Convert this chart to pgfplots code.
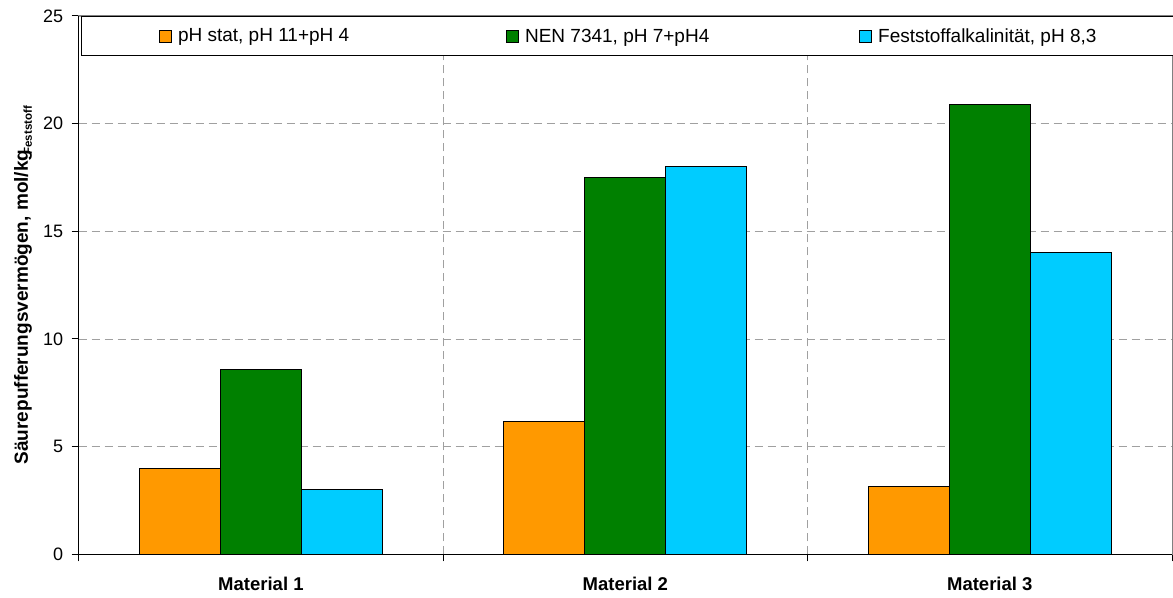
\documentclass[border=0pt]{standalone}
\usepackage{fontspec}
\setmainfont{Liberation Sans}
\usepackage{pgfplots}
\pgfplotsset{compat=1.18}
\definecolor{cOrange}{HTML}{FF9900}
\definecolor{cGreen}{HTML}{008000}
\definecolor{cCyan}{HTML}{00CCFF}
\definecolor{gridgray}{HTML}{A0A0A0}
\definecolor{bordergray}{HTML}{808080}
\pgfplotsset{
  mybar/.style={ybar, bar width=81pt, draw=black, line width=1pt,
    legend image code/.code={\draw[##1, draw=black, line width=0.8pt] (0pt,-6pt) rectangle (12pt,6pt);}},
}
\begin{document}
\begin{tikzpicture}
\begin{axis}[
  scale only axis,
  width=1093.3pt, height=538.3pt,
  xmin=-0.5, xmax=2.5, ymin=0, ymax=25,
  xtick={0,1,2},
  xticklabels={Material 1, Material 2, Material 3},
  minor xtick={-0.5,0.5,1.5,2.5},
  ytick={0,5,10,15,20,25},
  xtick pos=left, ytick pos=left,
  tick align=outside,
  major tick length=7pt, minor tick length=7pt,
  major x tick style={draw=none},
  minor x tick style={black, line width=1pt},
  major y tick style={black, line width=1pt},
  ymajorgrids, xminorgrids,
  grid style={gridgray, dash pattern=on 8pt off 5pt, line width=0.8pt},
  axis line style={bordergray, line width=1pt},
  /pgf/number format/assume math mode=true,
  yticklabel style={font=\fontsize{18}{20}\selectfont, xshift=-5pt},
  xticklabel style={font=\fontsize{18.5}{20}\selectfont\bfseries, yshift=-12pt},
  every axis y label/.style={at={(axis description cs:-0.0465,0.5)}, rotate=90, anchor=base, font=\fontsize{19}{22}\selectfont\bfseries},
  ylabel={Säurepufferungsvermögen, mol/kg\raisebox{-4pt}{\fontsize{11.5}{12}\selectfont\kern-5pt Feststoff}},
  legend columns=3,
  legend style={at={(axis description cs:0,1)}, anchor=north west, xshift=2pt,
    draw=black, line width=1pt, fill=white, inner xsep=78pt, inner ysep=10pt,
    font=\fontsize{19}{22}\selectfont,
    /tikz/column 1/.style={column sep=4pt},
    /tikz/column 3/.style={column sep=4pt},
    /tikz/column 5/.style={column sep=4pt},
    /tikz/column 2/.style={column sep=155pt},
    /tikz/column 4/.style={column sep=148pt}},
  after end axis/.code={\draw[black, line width=1.3pt] (rel axis cs:0,1) -- (rel axis cs:0,0) -- (rel axis cs:1,0);},
]
\addplot[mybar, bar shift=-81pt, fill=cOrange] coordinates {(0,4.0) (1,6.15) (2,3.15)};
\addlegendentry{pH stat, pH 11+pH 4}
\addplot[mybar, bar shift=0pt, fill=cGreen] coordinates {(0,8.57) (1,17.5) (2,20.9)};
\addlegendentry{NEN 7341, pH 7+pH4}
\addplot[mybar, bar shift=81pt, fill=cCyan] coordinates {(0,3.0) (1,18.0) (2,14.0)};
\addlegendentry{Feststoffalkalinität, pH 8,3}
\end{axis}
\pgfresetboundingbox
\path[use as bounding box] ([xshift=-78.7pt,yshift=-42.7pt]current axis.south west) rectangle ([xshift=1pt,yshift=16pt]current axis.north east);
\end{tikzpicture}
\end{document}
